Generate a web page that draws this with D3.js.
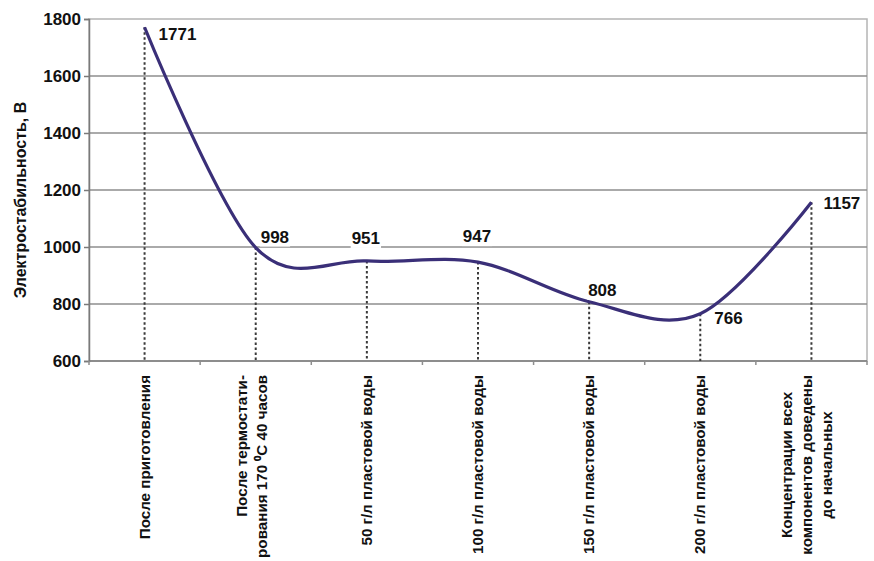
<!DOCTYPE html>
<html>
<head>
<meta charset="utf-8">
<script src="https://cdn.jsdelivr.net/npm/d3@7"></script>
<style>
  html, body { margin: 0; padding: 0; background: #fff; }
  svg { display: block; }
  text { font-family: "Liberation Sans Narrow", "Arial Narrow", "Liberation Sans", Arial, sans-serif; font-weight: bold; fill: #111; }
</style>
</head>
<body>
<svg id="chart" width="874" height="561"></svg>
<script>
// Stages of the test (each label split into its printed lines)
const categories = [
  ["После приготовления"],
  ["После термостати-", "рования 170 \u2070С 40 часов"],
  ["50 г/л пластовой воды"],
  ["100 г/л пластовой воды"],
  ["150 г/л пластовой воды"],
  ["200 г/л пластовой воды"],
  ["Концентрации всех", "компонентов доведены", "до начальных"]
];
// Electrical stability, V
const values = [1771, 998, 951, 947, 808, 766, 1157];
const yTicks = [600, 800, 1000, 1200, 1400, 1600, 1800];
const yTitle = "Электростабильность, В";

const plot = { left: 89, right: 867, top: 19, bottom: 361 };

const svg = d3.select("#chart");

const x = d3.scaleBand()
  .domain(d3.range(categories.length))
  .range([plot.left, plot.right])
  .paddingInner(0).paddingOuter(0);
const cx = i => x(i) + x.bandwidth() / 2;

const y = d3.scaleLinear()
  .domain([600, 1800])
  .range([plot.bottom, plot.top]);

// plot frame (light border on top and right)
svg.append("rect")
  .attr("x", plot.left).attr("y", plot.top)
  .attr("width", plot.right - plot.left).attr("height", plot.bottom - plot.top)
  .attr("fill", "#fff").attr("stroke", "#b4b4b4").attr("stroke-width", 1.5);

// horizontal gridlines
svg.append("g")
  .selectAll("line")
  .data(yTicks.filter(t => t > 600 && t < 1800))
  .join("line")
  .attr("x1", plot.left).attr("x2", plot.right)
  .attr("y1", d => y(d)).attr("y2", d => y(d))
  .attr("stroke", "#8e8e8e").attr("stroke-width", 1.5);

// y axis
const yAxis = svg.append("g")
  .attr("transform", `translate(${plot.left},0)`)
  .call(d3.axisLeft(y).tickValues(yTicks).tickSize(5).tickPadding(3).tickFormat(d3.format("d")));
yAxis.select(".domain").attr("stroke", "#7a7a7a").attr("stroke-width", 1.5);
yAxis.selectAll(".tick line").attr("stroke", "#7a7a7a").attr("stroke-width", 1.5);
yAxis.selectAll(".tick text")
  .attr("font-size", 17).attr("font-family", null).attr("fill", "#111");

// x axis: ticks at band boundaries
const xAxisG = svg.append("g").attr("transform", `translate(0,${plot.bottom})`);
xAxisG.append("line")
  .attr("x1", plot.left).attr("x2", plot.right)
  .attr("stroke", "#7a7a7a").attr("stroke-width", 1.5);
xAxisG.selectAll("line.tick")
  .data(d3.range(categories.length + 1))
  .join("line").attr("class", "tick")
  .attr("x1", i => i < categories.length ? x(i) : plot.right)
  .attr("x2", i => i < categories.length ? x(i) : plot.right)
  .attr("y1", 0).attr("y2", 4)
  .attr("stroke", "#8e8e8e").attr("stroke-width", 1.5);

// category labels, rotated
const centeredLabels = new Set([6]);
const lineGap = 20;
const labelTop = plot.bottom + 14;
categories.forEach((lines, i) => {
  const g = svg.append("g");
  const n = lines.length;
  const shift = n > 1 ? 1 : 5;
  const texts = lines.map((ln, k) => {
    const xc = cx(i) + (k - (n - 1) / 2) * lineGap + shift;
    return g.append("text")
      .attr("font-size", 15.2)
      .attr("text-anchor", "end")
      .attr("data-x", xc)
      .attr("transform", `translate(${xc},${labelTop}) rotate(-90)`)
      .text(ln);
  });
  if (centeredLabels.has(i)) {
    const maxLen = d3.max(texts, t => t.node().getComputedTextLength());
    texts.forEach(t => {
      const len = t.node().getComputedTextLength();
      t.attr("transform", `translate(${t.attr("data-x")},${labelTop + (maxLen - len) / 2}) rotate(-90)`);
    });
  }
});

// y title
svg.append("text")
  .attr("font-size", 16)
  .attr("text-anchor", "middle")
  .attr("transform", `translate(26,${(plot.top + plot.bottom) / 2 + 10}) rotate(-90)`)
  .text(yTitle);

// dotted drop lines
svg.append("g")
  .selectAll("line")
  .data(values)
  .join("line")
  .attr("x1", (d, i) => cx(i)).attr("x2", (d, i) => cx(i))
  .attr("y1", d => y(d)).attr("y2", plot.bottom)
  .attr("stroke", "#3a3a3a").attr("stroke-width", 2)
  .attr("stroke-dasharray", "2.5,2.5");

// smoothed line
const line = d3.line()
  .x((d, i) => cx(i))
  .y(d => y(d))
  .curve(d3.curveCatmullRom.alpha(0));
svg.append("path")
  .datum(values)
  .attr("d", line)
  .attr("fill", "none")
  .attr("stroke", "#3a2f78")
  .attr("stroke-width", 3.2)
  .attr("stroke-linejoin", "round");

// value labels
const labelOffsets = [
  { dx: 14, dy: 13, anchor: "start" },
  { dx: 5, dy: -5, anchor: "start" },
  { dx: -1, dy: -17, anchor: "middle" },
  { dx: -1, dy: -20, anchor: "middle" },
  { dx: -1, dy: -6, anchor: "start" },
  { dx: 14, dy: 10, anchor: "start" },
  { dx: 12, dy: 7, anchor: "start" }
];
const vl = svg.append("g");
values.forEach((v, i) => {
  const o = labelOffsets[i];
  const t = vl.append("text")
    .attr("x", cx(i) + o.dx)
    .attr("y", y(v) + o.dy)
    .attr("font-size", 17)
    .attr("text-anchor", o.anchor)
    .text(d3.format("d")(v));
  const b = t.node().getBBox();
  vl.insert("rect", () => t.node())
    .attr("x", b.x - 1).attr("y", b.y + 1)
    .attr("width", b.width + 2).attr("height", b.height - 1)
    .attr("fill", "#fff");
});
</script>
</body>
</html>
